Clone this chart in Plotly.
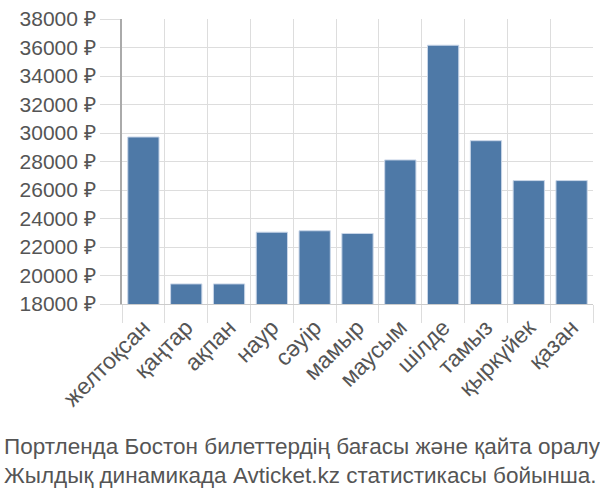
import plotly.graph_objects as go

months = ["желтоқсан", "қаңтар", "ақпан", "наур", "сәуір", "мамыр",
          "маусым", "шілде", "тамыз", "қыркүйек", "қазан"]
prices = [29720, 19410, 19410, 23040, 23140, 22950, 28110, 36160, 29460, 26660, 26660]
y_ticks = list(range(18000, 38001, 2000))
y_tick_text = [f"{v} ₽" for v in y_ticks]
caption_lines = ["Портленда Бостон билеттердің бағасы және қайта оралу",
                 "Жылдық динамикада Avticket.kz статистикасы бойынша."]

fig = go.Figure(go.Bar(
    x=months, y=prices,
    marker=dict(color="#4E79A7", line=dict(color="#c9d6e8", width=1)),
))

fig.update_layout(
    width=600, height=500,
    margin=dict(l=122, r=7, t=14, b=196),
    paper_bgcolor="white", plot_bgcolor="white",
    font=dict(family="Liberation Sans, Arial, sans-serif", size=22, color="#555"),
    bargap=0.27,
    showlegend=False,
    xaxis=dict(
        tickson="boundaries", ticks="outside", ticklen=18, tickcolor="#ddd",
        showgrid=True, gridcolor="#ddd", gridwidth=1,
        tickangle=-45, showline=True, linecolor="#ccc",
        tickfont=dict(size=23, color="#555"),
    ),
    yaxis=dict(
        range=[18000, 38000], tickvals=y_ticks, ticktext=y_tick_text,
        ticks="outside", ticklen=20, tickcolor="#ddd",
        showgrid=True, gridcolor="#ddd", gridwidth=1,
        showline=True, linecolor="#aaa", linewidth=2,
        tickfont=dict(size=21, color="#555"),
    ),
    annotations=[
        dict(text=caption_lines[0] + "<br>" + caption_lines[1],
             xref="paper", yref="paper", x=-120/471, y=0,
             xanchor="left", yanchor="top", yshift=-128,
             showarrow=False, align="left",
             font=dict(size=22.5, color="#555")),
    ],
)

fig.write_html("out.html", config={"displayModeBar": False},
               post_script="document.body.style.margin='0';document.body.style.padding='0';")
